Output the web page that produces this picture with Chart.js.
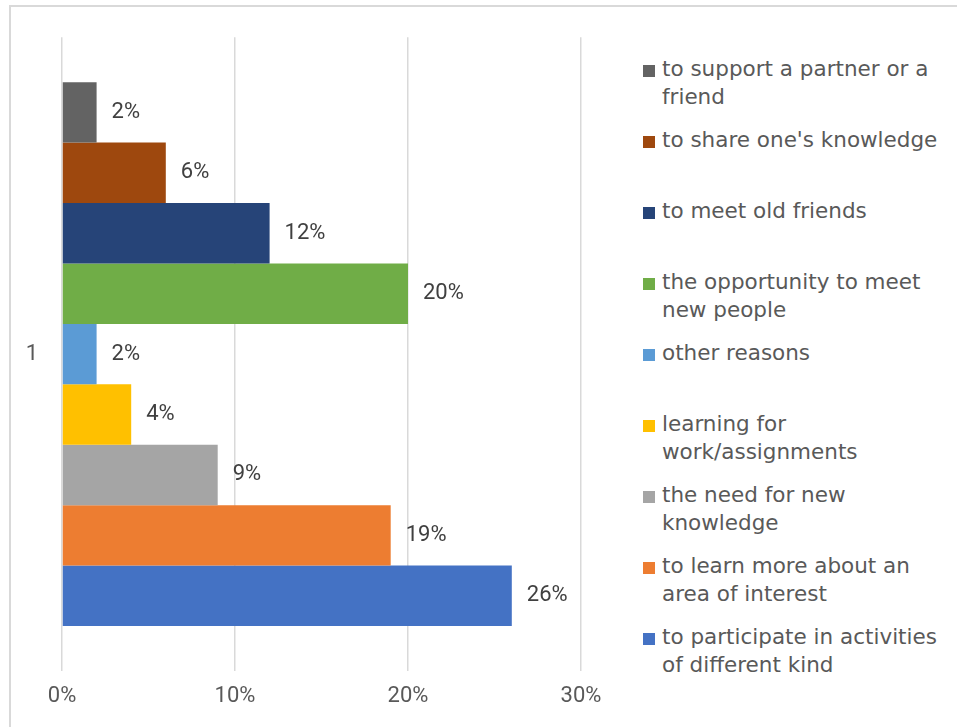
<!DOCTYPE html>
<html>
<head>
<meta charset="utf-8">
<script src="https://cdn.jsdelivr.net/npm/chart.js@4"></script>
<style>
  html, body { margin: 0; padding: 0; background: #fff; overflow: hidden; }
  body { width: 957px; height: 727px; position: relative; }
  #frame { position: absolute; left: 9px; top: 5px; width: 1000px; height: 800px; border: 2px solid #d9d9d9; }
  #chart { position: absolute; left: 0; top: 0; }
  #legend { position: absolute; left: 643px; top: 55px; font-family: "DejaVu Sans", sans-serif; font-size: 21.5px; color: #595959; }
  .item { height: 71px; position: relative; padding-left: 19px; line-height: 28px; white-space: pre-line; }
  .box { position: absolute; left: 0; top: 10px; width: 12px; height: 12px; }
</style>
</head>
<body>
<div id="frame"></div>
<canvas id="chart" width="620" height="727"></canvas>
<div id="legend"></div>
<script>
const categories = ['1'];
const seriesNames = [
    'to support a partner or a\nfriend',
    "to share one's knowledge",
    'to meet old friends',
    'the opportunity to meet\nnew people',
    'other reasons',
    'learning for\nwork/assignments',
    'the need for new\nknowledge',
    'to learn more about an\narea of interest',
    'to participate in activities\nof different kind'
];
const seriesValues = [2, 6, 12, 20, 2, 4, 9, 19, 26];
const seriesColors = ['#636363', '#9e480e', '#264478', '#70ad47', '#5b9bd5', '#ffc000', '#a5a5a5', '#ed7d31', '#4472c4'];
const xTicks = [0, 10, 20, 30];

const numFont = '"Liberation Sans Narrow", Roboto, sans-serif';

// value labels to the right of each bar
const valueLabels = {
    id: 'valueLabels',
    afterDatasetsDraw(chart) {
        const ctx = chart.ctx;
        ctx.save();
        ctx.font = '22px ' + numFont;
        ctx.fillStyle = '#404040';
        ctx.textAlign = 'left';
        ctx.textBaseline = 'middle';
        chart.data.datasets.forEach((ds, i) => {
            chart.getDatasetMeta(i).data.forEach((bar, j) => {
                ctx.fillText(ds.data[j] + '%', bar.x + 15, bar.y);
            });
        });
        ctx.restore();
    }
};

const chart = new Chart(document.getElementById('chart'), {
    type: 'bar',
    data: {
        labels: categories,
        datasets: seriesNames.map((name, i) => ({
            label: name,
            data: [seriesValues[i]],
            backgroundColor: seriesColors[i],
            categoryPercentage: 0.858,
            barPercentage: 1
        }))
    },
    options: {
        indexAxis: 'y',
        responsive: false,
        animation: false,
        devicePixelRatio: 1,
        layout: { padding: { top: 35, right: 39, left: 0, bottom: 0 } },
        plugins: { legend: { display: false }, tooltip: { enabled: false } },
        scales: {
            x: {
                min: 0,
                max: 30,
                afterBuildTicks: scale => { scale.ticks = xTicks.map(v => ({ value: v })); },
                afterFit: scale => { scale.height = 56; },
                grid: { color: '#d9d9d9', lineWidth: 1.5, drawTicks: false },
                border: { display: false },
                ticks: {
                    padding: 12,
                    color: '#595959',
                    font: { family: numFont, size: 22 },
                    callback: v => v + '%'
                }
            },
            y: {
                afterFit: scale => { scale.width = 62; },
                grid: { display: false, drawTicks: false },
                border: { display: false },
                ticks: {
                    padding: 24,
                    color: '#595959',
                    font: { family: numFont, size: 22 }
                }
            }
        }
    },
    plugins: [valueLabels]
});

// html legend built from the datasets
const legend = document.getElementById('legend');
chart.data.datasets.forEach(ds => {
    const item = document.createElement('div');
    item.className = 'item';
    const box = document.createElement('span');
    box.className = 'box';
    box.style.background = ds.backgroundColor;
    item.appendChild(box);
    item.appendChild(document.createTextNode(ds.label));
    legend.appendChild(item);
});
</script>
</body>
</html>
